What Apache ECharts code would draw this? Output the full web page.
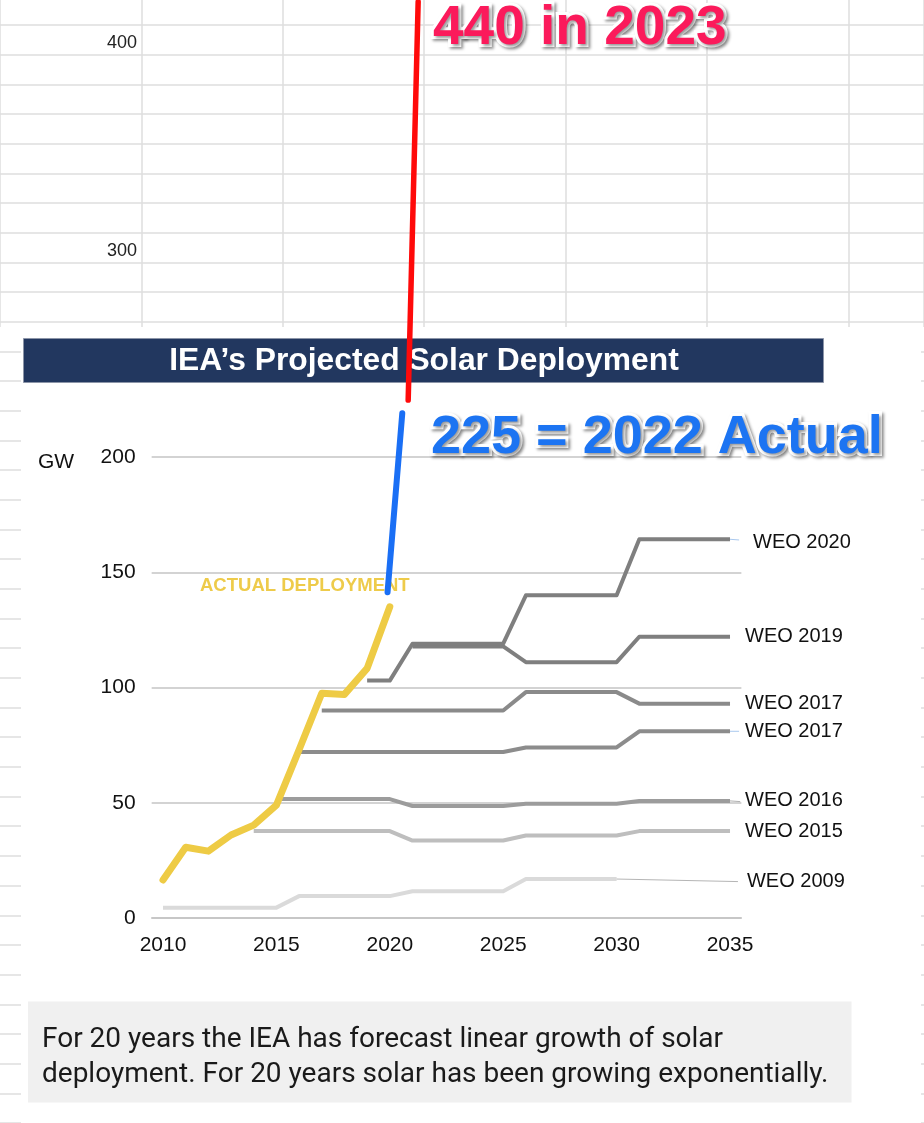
<!DOCTYPE html>
<html>
<head>
<meta charset="utf-8">
<script src="https://cdn.jsdelivr.net/npm/echarts@6/dist/echarts.min.js"></script>
<style>
html,body{margin:0;padding:0;background:#ffffff;}
#chart{width:924px;height:1123px;}
</style>
</head>
<body>
<div id="chart"></div>
<script>
// ---------- data ----------
const years = [2010,2011,2012,2013,2014,2015,2016,2017,2018,2019,2020,2021,2022,2023,2024,2025,2026,2027,2028,2029,2030,2031,2032,2033,2034,2035];
const yearLabels = years.map(String);

const actualDeployment = [16.5,30.7,29,36,40.3,49,73,97.5,97,108.3,135];

const weo2020 = [null,null,null,null,null,null,null,null,null,103,103,119,119,119,119,119,140,140,140,140,140,164.3,164.3,164.3,164.3,164.3];
const weo2019 = [null,null,null,null,null,null,null,null,null,null,null,117.8,117.8,117.8,117.8,117.8,111,111,111,111,111,122,122,122,122,122];
const weo2017a = [null,null,null,null,null,null,null,90,90,90,90,90,90,90,90,90,98,98,98,98,98,93,93,93,93,93];
const weo2017b = [null,null,null,null,null,null,72,72,72,72,72,72,72,72,72,72,74,74,74,74,74,81,81,81,81,81];
const weo2016 = [null,null,null,null,null,51.6,51.6,51.6,51.6,51.6,51.6,48.6,48.6,48.6,48.6,48.6,49.6,49.6,49.6,49.6,49.6,50.8,50.8,50.8,50.8,50.8];
const weo2015 = [null,null,null,null,37.7,37.7,37.7,37.7,37.7,37.7,37.7,33.6,33.6,33.6,33.6,33.6,35.8,35.8,35.8,35.8,35.8,37.7,37.7,37.7,37.7,37.7];
const weo2009 = [4.5,4.5,4.5,4.5,4.5,4.5,9.5,9.5,9.5,9.5,9.5,11.6,11.6,11.6,11.6,11.6,16.9,16.9,16.9,16.9,16.9,null,null,null,null,null];

const weoLabels = ['WEO 2020','WEO 2019','WEO 2017','WEO 2017','WEO 2016','WEO 2015','WEO 2009'];

// leader lines from the line ends to the labels
const weo2009Leader = [[2030,16.9],[2035.35,15.8]];
const weo2016Leader = [[2035,50.8],[2035.45,50.5]];
const weo2020Leader = [[2035,164.3],[2035.4,164.0]];
const weo2017bLeader = [[2035,81],[2035.4,81]];

// hand-drawn annotation strokes
const actual2022Stroke = [[2019.9,141.3],[2020.55,219]];
const actual2023Stroke = [[2020.81,224.7],[2021.25,397.5]];

const yTicks = [0,50,100,150,200];

// spreadsheet background
const sheetRowLabels = ['400', '', '', '', '', '', '', '300'];
const sheetRowCount = 37;

// ---------- build ----------
function pairs(vals){
  return years.map((y,i)=>[y, vals[i]]).filter(p=>p[1]!==null && p[1]!==undefined);
}
const sheetRows = [];
for (let i=0;i<sheetRowCount;i++){ sheetRows.push(sheetRowLabels[i] || ''); }

const AR = '"Liberation Sans", Arial, sans-serif';

function weoSeries(name, vals, color, labelText, dist, offY){
  const s = {
    name: name, type:'line', xAxisIndex:1, yAxisIndex:0,
    data: pairs(vals), symbol:'none', z:3,
    lineStyle:{color:color, width:4, join:'round', cap:'butt'},
    emphasis:{disabled:true}, silent:true
  };
  if (labelText){
    s.endLabel = {show:true, formatter: labelText, distance: dist, offset:[0, offY||0],
      color:'#111', fontSize:20, fontFamily:AR};
  }
  return s;
}
function leader(name, data, color, labelText, dist){
  const s = {name:name, type:'line', xAxisIndex:1, yAxisIndex:0, data:data, symbol:'none', z:3,
    lineStyle:{color:color, width:1}, silent:true, clip:false};
  if (labelText){
    s.endLabel = {show:true, formatter: labelText, distance: dist, color:'#111', fontSize:20, fontFamily:AR};
  }
  return s;
}

const sheetLine = {color:'#dedede', width:1.5};

const chart = echarts.init(document.getElementById('chart'), null, {renderer:'canvas'});
chart.setOption({
  animation:false,
  backgroundColor:'#ffffff',
  grid:[
    {left:151.66, top:457, width:589.7, height:461},
    {left:0, top:0, width:924, height:327},
    {left:0, top:25, width:924, height:1098}
  ],
  xAxis:[
    {type:'category', gridIndex:0, data:yearLabels, boundaryGap:true, z:2,
      axisLine:{show:true, lineStyle:{color:'#c4c4c4', width:1.5}},
      axisTick:{show:false},
      axisLabel:{interval:4, margin:17, color:'#111', fontSize:21, fontFamily:AR},
      splitLine:{show:false}},
    {type:'value', gridIndex:0, min:2009.5, max:2035.5, show:false},
    {type:'value', gridIndex:1, min:0, max:924/141.4, interval:1, z:0,
      axisLine:{show:false}, axisTick:{show:false}, axisLabel:{show:false},
      splitLine:{show:true, lineStyle:sheetLine}},
    {type:'value', gridIndex:2, min:0, max:1, show:false, splitLine:{show:false}}
  ],
  yAxis:[
    {type:'value', gridIndex:0, min:0, max:200, interval:50, z:2,
      axisLine:{show:false}, axisTick:{show:false},
      axisLabel:{margin:16, color:'#111', fontSize:21, fontFamily:AR,
        formatter:(v)=> yTicks.indexOf(v)>=0 ? String(v) : ''},
      splitLine:{show:true, lineStyle:{color:'#c4c4c4', width:1.5}}},
    {type:'value', gridIndex:1, min:0, max:1, show:false, splitLine:{show:false}},
    {type:'category', gridIndex:2, data:sheetRows, inverse:true, boundaryGap:true, z:0, offset:-145,
      axisLine:{show:false}, axisTick:{show:false},
      axisLabel:{interval:0, margin:8, color:'#222', fontSize:18, fontFamily:AR,
        formatter:(v)=> v ? '{c|' + v + '}' : '',
        rich:{c:{color:'#222', fontSize:18, fontFamily:AR, padding:[6,0,0,0]}}},
      splitLine:{show:true, interval:0, lineStyle:sheetLine}}
  ],
  series:[
    weoSeries('weo2009', weo2009, '#dadada', null, 0, 0),
    leader('weo2009Leader', weo2009Leader, '#b5b5b5', weoLabels[6], 9),
    weoSeries('weo2015', weo2015, '#bebebe', weoLabels[5], 15, 0),
    weoSeries('weo2016', weo2016, '#9c9c9c', weoLabels[4], 15, 0),
    leader('weo2016Leader', weo2016Leader, '#b0b0b0', null, 0),
    weoSeries('weo2017b', weo2017b, '#8c8c8c', weoLabels[3], 15, 0),
    leader('weo2017bLeader', weo2017bLeader, '#a9c8ee', null, 0),
    weoSeries('weo2017a', weo2017a, '#8a8a8a', weoLabels[2], 15, 0),
    weoSeries('weo2019', weo2019, '#7f7f7f', weoLabels[1], 15, 0),
    weoSeries('weo2020', weo2020, '#7f7f7f', weoLabels[0], 23, 3),
    leader('weo2020Leader', weo2020Leader, '#a9c8ee', null, 0),
    {name:'actual', type:'line', xAxisIndex:1, yAxisIndex:0, data:pairs(actualDeployment),
      symbol:'none', z:4, silent:true,
      lineStyle:{color:'#eecb45', width:7, cap:'round', join:'round'}},
    {name:'actual2022', type:'line', xAxisIndex:1, yAxisIndex:0, data:actual2022Stroke, symbol:'none', z:5, clip:false, silent:true,
      lineStyle:{color:'#1a6ff5', width:6, cap:'round'}},
    {name:'actual2023', type:'line', xAxisIndex:1, yAxisIndex:0, data:actual2023Stroke, symbol:'none', z:5, clip:false, silent:true,
      lineStyle:{color:'#ff0a0a', width:5.5, cap:'round'}}
  ],
  graphic:{elements:[
    {type:'rect', z:1, silent:true, shape:{x:21, y:327, width:900, height:800}, style:{fill:'#ffffff'}},
    {type:'rect', z:1.5, silent:true, shape:{x:23.5, y:338.5, width:800, height:44}, style:{fill:'#22375f', stroke:'#8c95a8', lineWidth:1}},
    {type:'text', z:1.6, silent:true, style:{text:'IEA’s Projected Solar Deployment', x:424, y:361, textAlign:'center', textVerticalAlign:'middle',
      font:'bold 31.8px ' + AR, fill:'#ffffff'}},
    {type:'rect', z:1.5, silent:true, shape:{x:28, y:1001.5, width:823.5, height:101}, style:{fill:'#f0f0f0'}},
    {type:'text', z:1.6, silent:true, style:{text:'For 20 years the IEA has forecast linear growth of solar\ndeployment. For 20 years solar has been growing exponentially.',
      x:42, y:1022, textAlign:'left', textVerticalAlign:'top', font:'28px Roboto, sans-serif', lineHeight:35, fill:'#1a1a1a'}},
    {type:'text', z:2, silent:true, style:{text:'GW', x:38, y:462, textAlign:'left', textVerticalAlign:'middle', font:'21px ' + AR, fill:'#111'}},
    {type:'text', z:4, silent:true, style:{text:'ACTUAL DEPLOYMENT', x:200, y:586, textAlign:'left', textVerticalAlign:'middle', font:'bold 18.5px ' + AR, fill:'#eecb4a'}},
    {type:'text', z:7, silent:true, style:{text:'440 in 2023', x:433, y:29, textAlign:'left', textVerticalAlign:'middle',
      font:'bold 55px ' + AR, fill:'#fb1a5b', stroke:'#ffffff', lineWidth:6,
      textShadowColor:'rgba(0,0,0,0.4)', textShadowBlur:3, textShadowOffsetX:2, textShadowOffsetY:2,
      shadowColor:'rgba(0,0,0,0.4)', shadowBlur:3, shadowOffsetX:2, shadowOffsetY:2}},
    {type:'text', z:7, silent:true, style:{text:'225 = 2022 Actual', x:431, y:438, textAlign:'left', textVerticalAlign:'middle',
      font:'bold 54px ' + AR, fill:'#1c74f2', stroke:'#ffffff', lineWidth:6,
      textShadowColor:'rgba(0,0,0,0.4)', textShadowBlur:3, textShadowOffsetX:2, textShadowOffsetY:2,
      shadowColor:'rgba(0,0,0,0.4)', shadowBlur:3, shadowOffsetX:2, shadowOffsetY:2}}
  ]}
});
</script>
</body>
</html>
